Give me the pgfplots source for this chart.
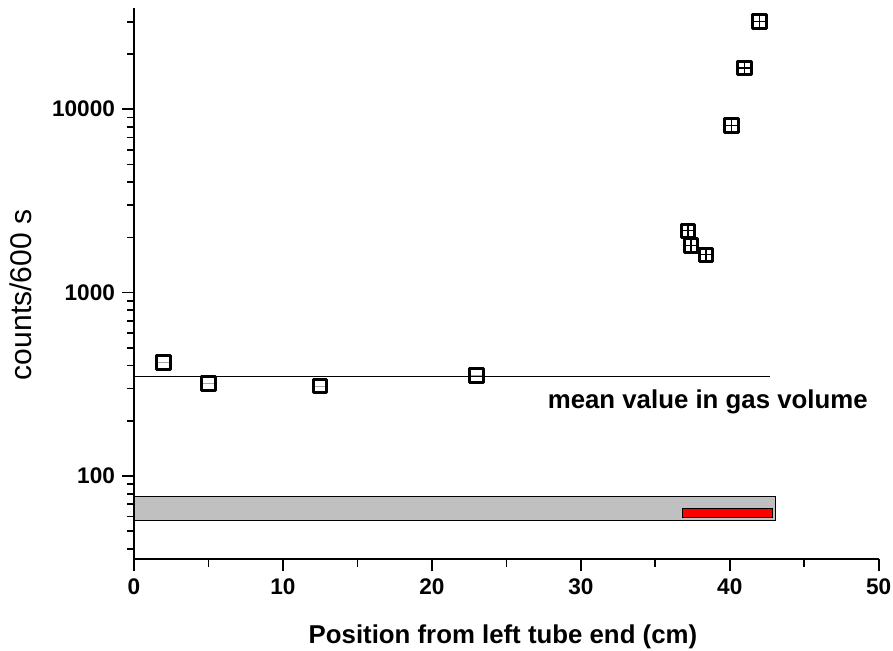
\documentclass[border=0pt]{standalone}
\usepackage{pgfplots}
\pgfplotsset{compat=1.18}
\usepackage{fontspec}
\setmainfont{Liberation Sans}
\definecolor{bandgray}{RGB}{192,192,192}

\begin{document}
\begin{tikzpicture}
\useasboundingbox (0,0) rectangle (446.5pt,325pt);
\begin{axis}[
  at={(67pt,45.35pt)}, anchor=south west,
  scale only axis, width=372.35pt, height=275.5pt,
  ymode=log,
  xmin=0, xmax=50, ymin=35.1, ymax=35500,
  axis lines=left,
  axis line style={-, line width=0.85pt},
  tick align=outside,
  major tick length=6pt, minor tick length=3.6pt,
  major tick style={black, line width=0.85pt},
  minor tick style={black, line width=0.85pt},
  xtick={0,10,20,30,40,50}, minor xtick={5,15,25,35,45},
  xticklabels={0,10,20,30,40,50},
  ytick={100,1000,10000}, yticklabels={100,1000,10000},
  minor ytick={40,50,60,70,80,90,200,300,400,500,600,700,800,900,2000,3000,4000,5000,6000,7000,8000,9000,20000,30000},
  ticklabel style={font=\bfseries\fontsize{11.3}{13}\selectfont},
  xlabel={Position from left tube end (cm)},
  ylabel={counts/600 s},
  xlabel style={font=\bfseries\fontsize{12.9}{15}\selectfont,
    at={(axis description cs:0.4954,-0.1524)}, anchor=base},
  ylabel style={font=\fontsize{15}{17}\selectfont,
    at={(axis description cs:-0.1374,0.4797)}, anchor=base},
  clip=false,
]
% background band and the red section
\addplot[fill=bandgray, draw=black, line width=0.65pt]
  coordinates {(0,57) (43.05,57) (43.05,77) (0,77)} -- cycle;
\addplot[fill=red, draw=black, line width=0.65pt]
  coordinates {(36.85,59.5) (42.85,59.5) (42.85,66.7) (36.85,66.7)} -- cycle;

% mean value in the gas volume
\addplot[black, line width=0.6pt] coordinates {(0,350) (42.7,350)};
\node[anchor=base west, inner sep=0, font=\bfseries\fontsize{12.9}{15}\selectfont]
  at (axis cs:27.76,234) {mean value in gas volume};

% measurements in the gas volume
\addplot[only marks, mark=-, mark size=3pt, mark options={gray!70, line width=0.3pt}]
  coordinates {(2,417) (5,318) (12.5,310) (23,354)};
\addplot[only marks, mark=square, mark size=3.4pt,
  mark options={black, line width=1.5pt, line join=round}]
  coordinates {(2,417) (5,318) (12.5,310) (23,354)};

% measurements near the right tube end
\addplot[only marks, mark=square, mark size=3.4pt,
  mark options={black, line width=1.5pt, line join=round}]
  coordinates {(37.2,2170) (37.4,1804) (38.4,1606) (40.1,8120) (41.0,16760) (42.0,30100)};
\addplot[only marks, mark=+, mark size=3.4pt, mark options={black, line width=0.6pt}]
  coordinates {(37.2,2170) (37.4,1804) (38.4,1606) (40.1,8120) (41.0,16760) (42.0,30100)};
\end{axis}
\end{tikzpicture}
\end{document}
